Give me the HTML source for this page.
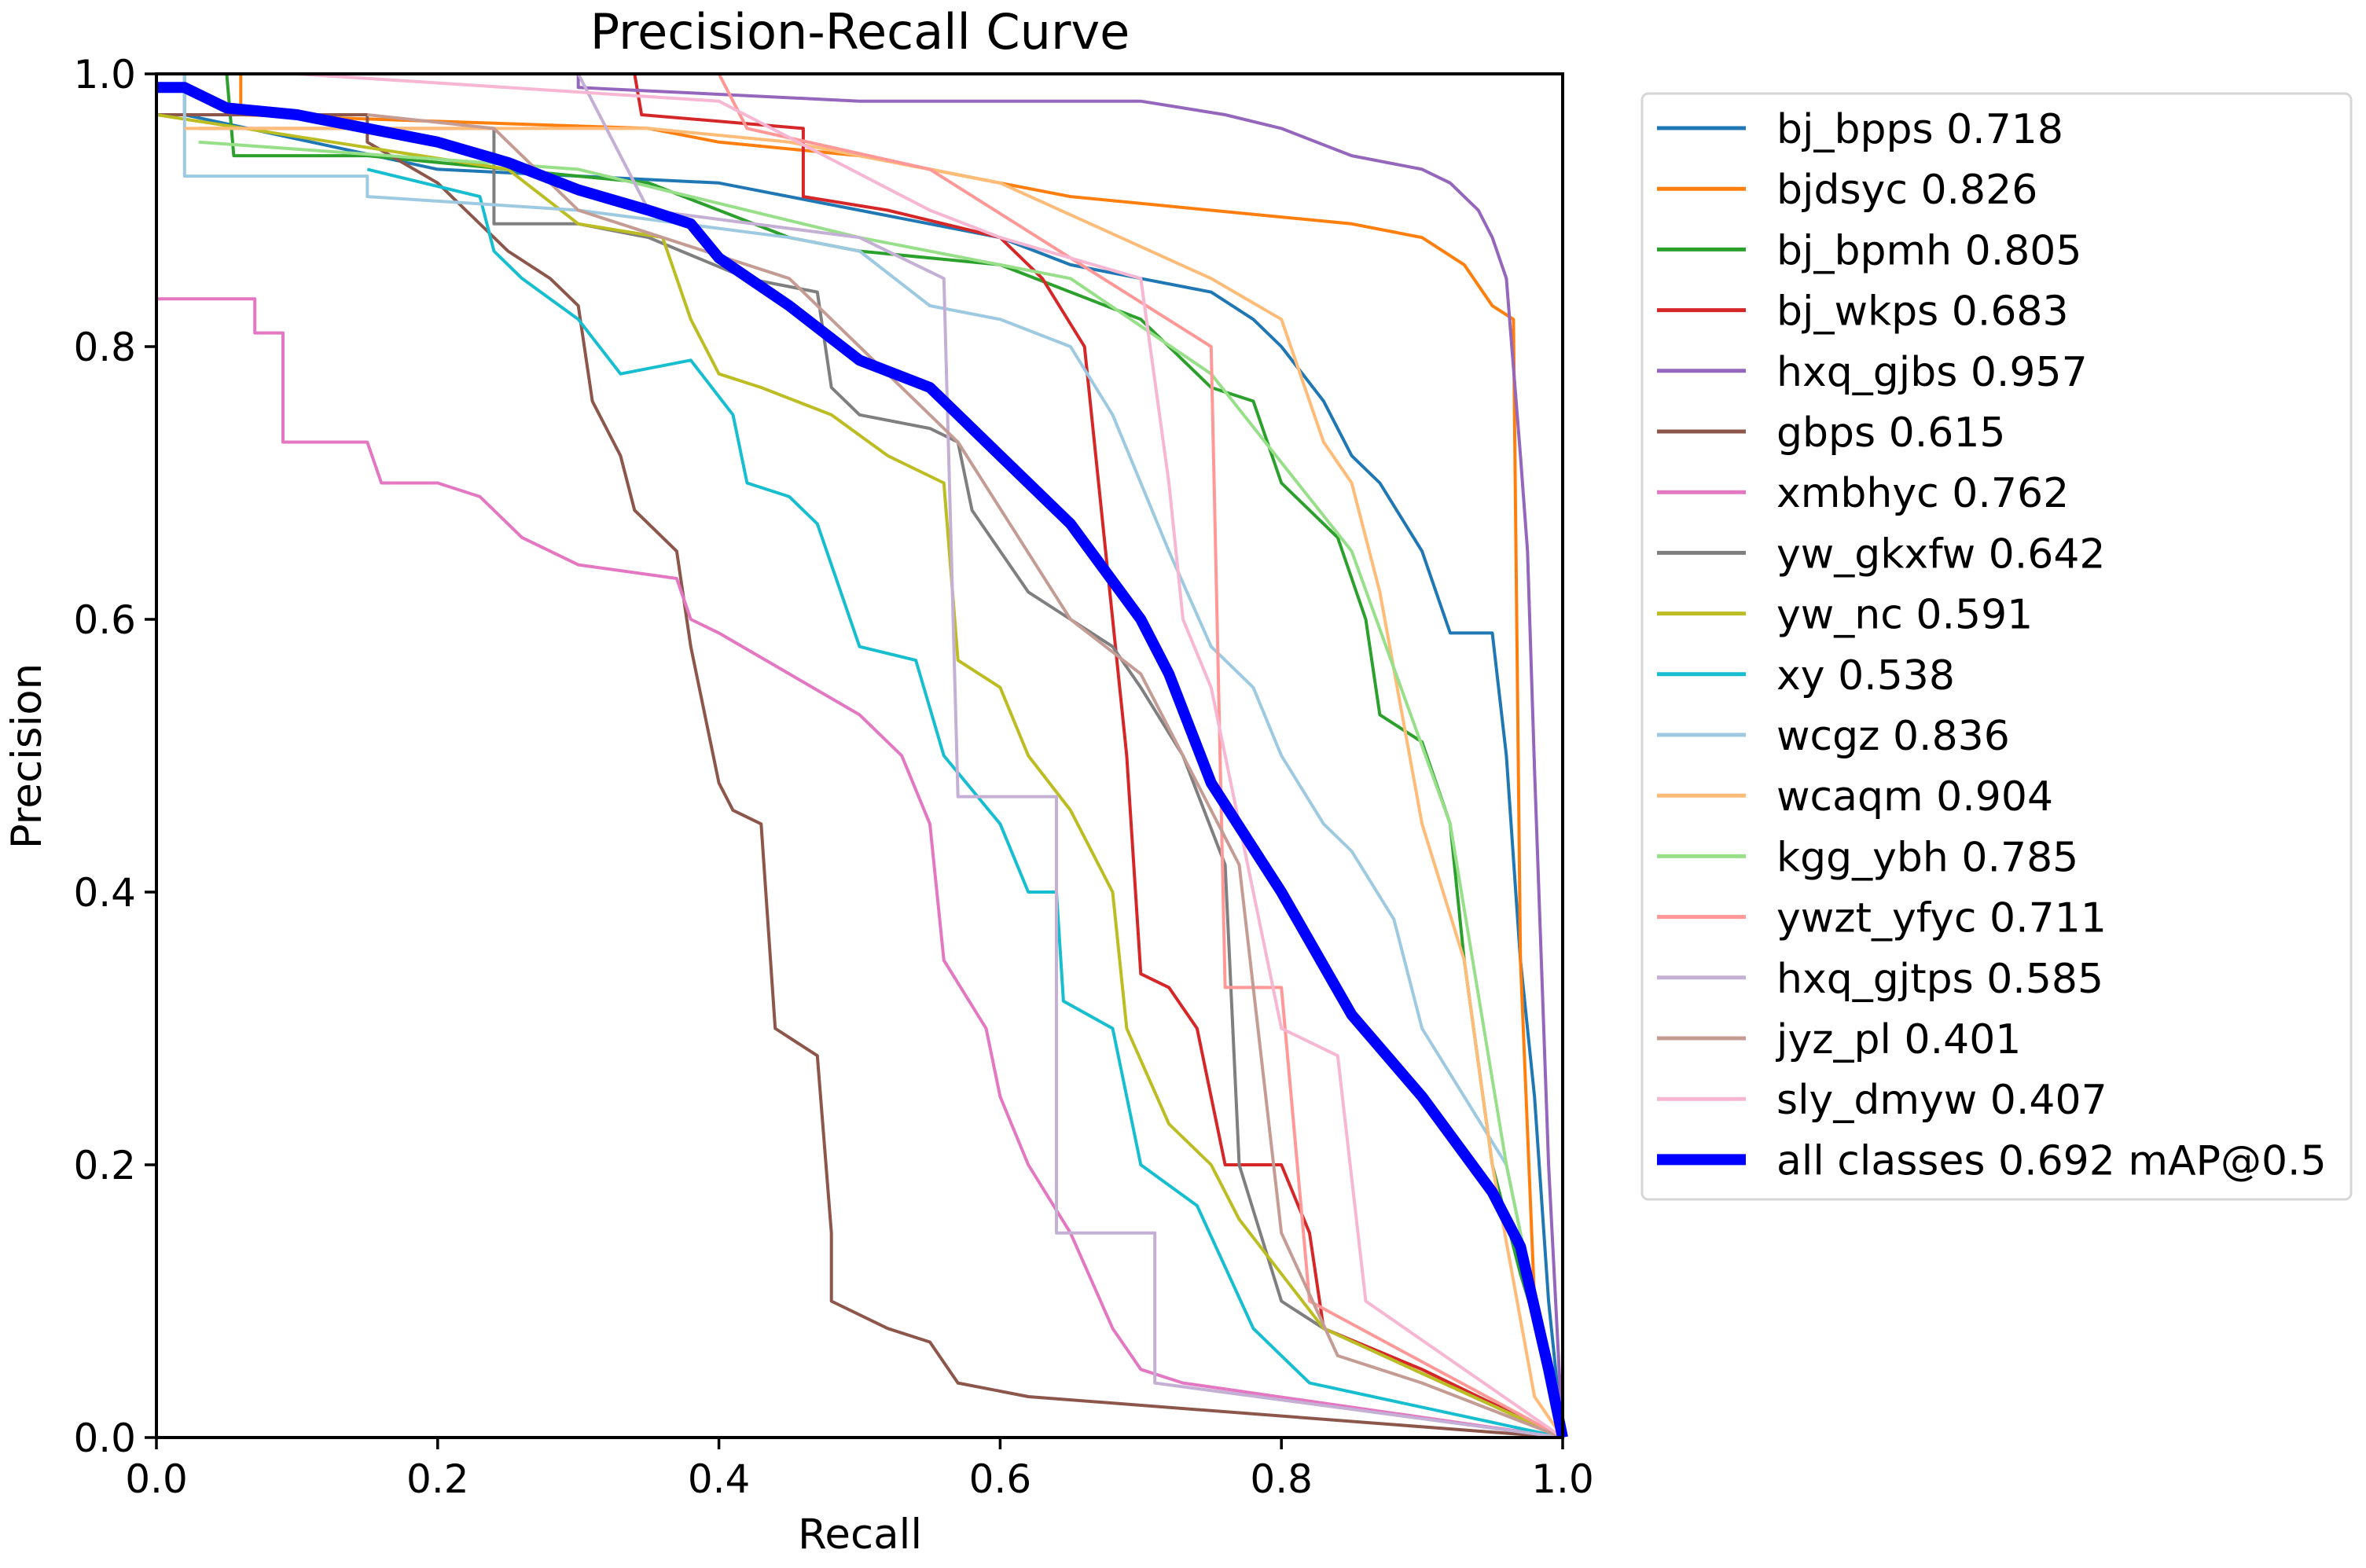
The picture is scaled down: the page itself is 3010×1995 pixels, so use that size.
<!DOCTYPE html>
<html><head><meta charset="utf-8"><style>
html,body{margin:0;padding:0;background:#fff;}
svg text{font-family:"DejaVu Sans","Liberation Sans",sans-serif;fill:#000;}
</style></head><body>
<svg id="chart" width="3010" height="1990" viewBox="0 0 3010 1990" xmlns="http://www.w3.org/2000/svg">
<rect width="3010" height="1990" fill="#fff"/>
<text x="1094" y="62" font-size="62" text-anchor="middle">Precision-Recall Curve</text>
<g id="series"></g>
<g id="axes"></g>
<text x="1094" y="1970" font-size="53" text-anchor="middle">Recall</text>
<text transform="translate(52,962) rotate(-90)" font-size="53" text-anchor="middle">Precision</text>
<g id="legend"></g>
</svg>
<script>
const tickValues=[0,0.2,0.4,0.6,0.8,1.0];
const tickLabels=["0.0","0.2","0.4","0.6","0.8","1.0"];
const seriesNames=["bj_bpps 0.718","bjdsyc 0.826","bj_bpmh 0.805","bj_wkps 0.683","hxq_gjbs 0.957","gbps 0.615","xmbhyc 0.762","yw_gkxfw 0.642","yw_nc 0.591","xy 0.538","wcgz 0.836","wcaqm 0.904","kgg_ybh 0.785","ywzt_yfyc 0.711","hxq_gjtps 0.585","jyz_pl 0.401","sly_dmyw 0.407","all classes 0.692 mAP@0.5"];
const seriesColors=["#1f77b4","#ff7f0e","#2ca02c","#d62728","#9467bd","#8c564b","#e377c2","#7f7f7f","#bcbd22","#17becf","#9ecae1","#ffbb78","#98df8a","#ff9896","#c5b0d5","#c49c94","#f7b6d2","#0000ff"];
const r0=[0.02,0.02,0.2,0.4,0.5,0.6,0.65,0.7,0.75,0.78,0.8,0.83,0.85,0.87,0.9,0.92,0.95,0.96,0.97,0.98,0.99,1];
const p0=[1,0.97,0.93,0.92,0.9,0.88,0.86,0.85,0.84,0.82,0.8,0.76,0.72,0.7,0.65,0.59,0.59,0.5,0.35,0.25,0.1,0];
const r1=[0.06,0.06,0.35,0.4,0.5,0.55,0.6,0.65,0.75,0.85,0.9,0.93,0.95,0.965,0.97,0.98,1];
const p1=[1,0.97,0.96,0.95,0.94,0.93,0.92,0.91,0.9,0.89,0.88,0.86,0.83,0.82,0.35,0.1,0];
const r2=[0.05,0.055,0.15,0.25,0.35,0.4,0.45,0.5,0.6,0.65,0.7,0.72,0.75,0.78,0.8,0.82,0.84,0.86,0.87,0.9,0.92,0.93,0.95,0.97,1];
const p2=[1,0.94,0.94,0.93,0.92,0.9,0.88,0.87,0.86,0.84,0.82,0.8,0.77,0.76,0.7,0.68,0.66,0.6,0.53,0.51,0.45,0.35,0.2,0.12,0.02];
const r3=[0.34,0.345,0.46,0.46,0.52,0.6,0.63,0.66,0.68,0.69,0.7,0.72,0.74,0.76,0.8,0.82,0.83,0.9,1];
const p3=[1,0.97,0.96,0.91,0.9,0.88,0.85,0.8,0.6,0.5,0.34,0.33,0.3,0.2,0.2,0.15,0.08,0.05,0];
const r4=[0.3,0.3,0.5,0.7,0.76,0.8,0.85,0.9,0.92,0.94,0.95,0.96,0.97,0.975,0.98,0.99,1];
const p4=[1,0.99,0.98,0.98,0.97,0.96,0.94,0.93,0.92,0.9,0.88,0.85,0.72,0.65,0.49,0.2,0];
const r5=[0,0.15,0.15,0.2,0.22,0.25,0.28,0.3,0.31,0.33,0.34,0.37,0.38,0.4,0.41,0.43,0.44,0.47,0.48,0.48,0.52,0.55,0.57,0.62,1];
const p5=[0.97,0.97,0.95,0.92,0.9,0.87,0.85,0.83,0.76,0.72,0.68,0.65,0.58,0.48,0.46,0.45,0.3,0.28,0.15,0.1,0.08,0.07,0.04,0.03,0];
const r6=[0,0.07,0.07,0.09,0.09,0.15,0.16,0.2,0.23,0.26,0.3,0.37,0.38,0.4,0.45,0.5,0.53,0.55,0.56,0.59,0.6,0.62,0.65,0.68,0.7,0.73,1];
const p6=[0.835,0.835,0.81,0.81,0.73,0.73,0.7,0.7,0.69,0.66,0.64,0.63,0.6,0.59,0.56,0.53,0.5,0.45,0.35,0.3,0.25,0.2,0.15,0.08,0.05,0.04,0];
const r7=[0.03,0.24,0.24,0.3,0.35,0.42,0.47,0.48,0.5,0.55,0.57,0.58,0.62,0.65,0.68,0.7,0.73,0.76,0.77,0.8,0.83,1];
const p7=[0.96,0.96,0.89,0.89,0.88,0.85,0.84,0.77,0.75,0.74,0.73,0.68,0.62,0.6,0.58,0.55,0.5,0.42,0.2,0.1,0.08,0];
const r8=[0,0.25,0.3,0.36,0.38,0.4,0.43,0.48,0.52,0.56,0.57,0.6,0.62,0.65,0.68,0.69,0.72,0.75,0.77,0.8,0.83,1];
const p8=[0.97,0.93,0.89,0.88,0.82,0.78,0.77,0.75,0.72,0.7,0.57,0.55,0.5,0.46,0.4,0.3,0.23,0.2,0.16,0.12,0.08,0];
const r9=[0.15,0.23,0.24,0.26,0.3,0.33,0.38,0.41,0.42,0.45,0.47,0.5,0.54,0.56,0.6,0.62,0.64,0.645,0.68,0.7,0.74,0.78,0.8,0.82,1];
const p9=[0.93,0.91,0.87,0.85,0.82,0.78,0.79,0.75,0.7,0.69,0.67,0.58,0.57,0.5,0.45,0.4,0.4,0.32,0.3,0.2,0.17,0.08,0.06,0.04,0];
const r10=[0.02,0.02,0.15,0.15,0.3,0.45,0.5,0.55,0.6,0.65,0.68,0.7,0.72,0.75,0.78,0.8,0.83,0.85,0.88,0.9,0.93,0.96,1];
const p10=[1,0.925,0.925,0.91,0.9,0.88,0.87,0.83,0.82,0.8,0.75,0.7,0.65,0.58,0.55,0.5,0.45,0.43,0.38,0.3,0.25,0.2,0];
const r11=[0.02,0.35,0.45,0.6,0.75,0.8,0.83,0.85,0.87,0.9,0.93,0.95,0.98,1];
const p11=[0.96,0.96,0.95,0.92,0.85,0.82,0.73,0.7,0.62,0.45,0.35,0.2,0.03,0];
const r12=[0.03,0.3,0.5,0.65,0.75,0.85,0.92,0.96,1];
const p12=[0.95,0.93,0.88,0.85,0.78,0.65,0.45,0.2,0];
const r13=[0.4,0.42,0.55,0.75,0.76,0.8,0.82,1];
const p13=[1,0.96,0.93,0.8,0.33,0.33,0.1,0];
const r14=[0.3,0.35,0.5,0.56,0.57,0.64,0.64,0.71,0.71,1];
const p14=[1,0.9,0.88,0.85,0.47,0.47,0.15,0.15,0.04,0];
const r15=[0.15,0.24,0.3,0.45,0.57,0.65,0.7,0.73,0.77,0.8,0.84,0.9,1];
const p15=[0.97,0.96,0.9,0.85,0.73,0.6,0.56,0.5,0.42,0.15,0.06,0.04,0];
const r16=[0.1,0.4,0.55,0.6,0.7,0.72,0.73,0.75,0.8,0.84,0.86,1];
const p16=[1,0.98,0.9,0.88,0.85,0.7,0.6,0.55,0.3,0.28,0.1,0];
const r17=[0,0.02,0.05,0.1,0.15,0.2,0.25,0.3,0.35,0.38,0.4,0.45,0.5,0.55,0.6,0.65,0.7,0.72,0.75,0.8,0.85,0.9,0.95,0.97,0.99,1];
const p17=[0.99,0.99,0.975,0.97,0.96,0.95,0.935,0.915,0.9,0.89,0.865,0.83,0.79,0.77,0.72,0.67,0.6,0.56,0.48,0.4,0.31,0.25,0.18,0.14,0.05,0];
const recallSets=[r0,r1,r2,r3,r4,r5,r6,r7,r8,r9,r10,r11,r12,r13,r14,r15,r16,r17];
const precisionSets=[p0,p1,p2,p3,p4,p5,p6,p7,p8,p9,p10,p11,p12,p13,p14,p15,p16,p17];

const X0=199,X1=1988,Y0=1829,Y1=94;
const xs=v=>X0+(X1-X0)*v;
const ys=v=>Y0-(Y0-Y1)*v;
const NS="http://www.w3.org/2000/svg";
function mk(tag,parent){const e=document.createElementNS(NS,tag);parent.appendChild(e);return e;}
const sg=document.getElementById('series');
for(let i=0;i<recallSets.length;i++){
  const pl=mk('polyline',sg);
  
  
  pl.setAttribute('points',recallSets[i].map((r,j)=>xs(r).toFixed(1)+','+ys(precisionSets[i][j]).toFixed(1)).join(' '));
  pl.setAttribute('fill','none');
  pl.setAttribute('stroke',seriesColors[i]);
  pl.setAttribute('stroke-width',i===17?14:4);
  pl.setAttribute('stroke-linejoin','round');
}
const ag=document.getElementById('axes');
const frame=mk('rect',ag);


frame.setAttribute('x',X0);frame.setAttribute('y',Y1);frame.setAttribute('width',X1-X0);frame.setAttribute('height',Y0-Y1);
frame.setAttribute('fill','none');frame.setAttribute('stroke','#000');frame.setAttribute('stroke-width',4);
tickValues.forEach((v,i)=>{
  const tx=mk('line',ag);
  
  
  tx.setAttribute('x1',xs(v));tx.setAttribute('x2',xs(v));tx.setAttribute('y1',Y0);tx.setAttribute('y2',Y0+15);tx.setAttribute('stroke','#000');tx.setAttribute('stroke-width',3.5);
  const lx=mk('text',ag);
  
  
  lx.setAttribute('x',xs(v));lx.setAttribute('y',Y0+70);lx.setAttribute('font-size','50');lx.setAttribute('text-anchor','middle');
  lx.textContent=tickLabels[i];
  const ty=mk('line',ag);
  
  
  ty.setAttribute('x1',X0-15);ty.setAttribute('x2',X0);ty.setAttribute('y1',ys(v));ty.setAttribute('y2',ys(v));ty.setAttribute('stroke','#000');ty.setAttribute('stroke-width',3.5);
  const ly=mk('text',ag);
  
  
  ly.setAttribute('x',X0-26);ly.setAttribute('y',ys(v)+18);ly.setAttribute('font-size','50');ly.setAttribute('text-anchor','end');
  ly.textContent=tickLabels[i];
});
const lg=document.getElementById('legend');
const box=mk('rect',lg);


box.setAttribute('x',2089);box.setAttribute('y',119);box.setAttribute('width',2991-2089);box.setAttribute('height',1526-119);
box.setAttribute('rx',8);box.setAttribute('fill','#fff');box.setAttribute('stroke','#d6d6d6');box.setAttribute('stroke-width',3);
seriesNames.forEach((n,i)=>{
  const y=163+i*77.2;
  const l=mk('line',lg);
  
  
  l.setAttribute('x1',2108);l.setAttribute('x2',2221);l.setAttribute('y1',y);l.setAttribute('y2',y);
  l.setAttribute('stroke',seriesColors[i]);l.setAttribute('stroke-width',i===17?14:5);
  const t=mk('text',lg);
  
  
  t.setAttribute('x',2260);t.setAttribute('y',y+19);t.setAttribute('font-size','52');
  t.textContent=n;
});
</script>
</body></html>
